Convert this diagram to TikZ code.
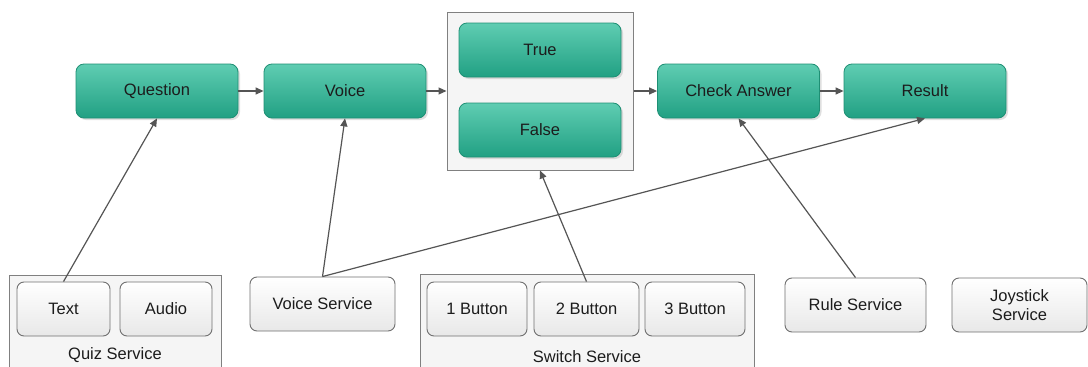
\documentclass[tikz,border=0pt]{standalone}
\usepackage{fontspec}
\setmainfont{Liberation Sans}
\usetikzlibrary{arrows.meta,shadows}
\definecolor{greenTop}{HTML}{5FCDB2}
\definecolor{greenBot}{HTML}{21A083}
\definecolor{greenEdge}{HTML}{1E8F74}
\definecolor{greyEdge}{HTML}{707070}
\definecolor{boxEdge}{HTML}{808080}
\definecolor{arrowCol}{HTML}{555555}
\definecolor{inkCol}{HTML}{1C1C1C}
\tikzset{
  stage/.style={draw=greenEdge, line width=0.8pt, rounded corners=8pt,
    top color=greenTop, bottom color=greenBot, text=inkCol,
    inner sep=0pt, minimum width=162pt, minimum height=54pt,
    drop shadow={shadow xshift=2pt, shadow yshift=-2pt, opacity=0.25}},
  service/.style={draw=greyEdge, line width=0.9pt, rounded corners=7pt,
    top color=white, bottom color=black!9, text=inkCol, align=center,
    inner sep=0pt, minimum height=54pt},
  group/.style={draw=boxEdge, line width=1pt, fill=black!4, inner sep=0pt},
  arr/.style={draw=arrowCol, line width=1.2pt,
    -{Triangle[length=8pt,width=7pt]}},
  every node/.style={font=\fontsize{16.5}{19.5}\selectfont}
}
\begin{document}
\begin{tikzpicture}[x=1pt,y=-1pt]
  \clip (0,0) rectangle (1088,367);
  \fill[white] (0,0) rectangle (1088,367);

  % group frames
  \node[group, minimum width=186pt, minimum height=158pt] (answers) at (540,91) {};
  \node[group, minimum width=212pt, minimum height=110pt] (quiz) at (115,330) {};
  \node[group, minimum width=334pt, minimum height=110pt] (switch) at (587,329) {};

  % processing stages
  \node[stage] (question) at (157,91) {Question};
  \node[stage] (voice) at (345,91) {Voice};
  \node[stage] (true) at (540,50) {True};
  \node[stage] (false) at (540,130) {False};
  \node[stage] (check) at (738.5,91) {Check Answer};
  \node[stage] (result) at (925,91) {Result};

  % services
  \node[service, minimum width=93pt] (text) at (63.5,309) {Text};
  \node[service, minimum width=92pt] (audio) at (166,309) {Audio};
  \node[inkCol] (quizlbl) at (115,355) {Quiz Service};
  \node[service, minimum width=145pt] (voicesvc) at (322.5,304) {Voice Service};
  \node[service, minimum width=100pt] (btn1) at (477,309) {1 Button};
  \node[service, minimum width=105pt] (btn2) at (586.5,309) {2 Button};
  \node[service, minimum width=100pt] (btn3) at (695,309) {3 Button};
  \node[inkCol] (switchlbl) at (587,357) {Switch Service};
  \node[service, minimum width=141pt] (rule) at (855.5,305) {Rule Service};
  \node[service, minimum width=135pt] (joy) at (1019.5,305) {Joystick\\Service};

  % flow along the top row
  \draw[arr] (question.east) -- (voice.west);
  \draw[arr] (voice.east) -- (answers.west);
  \draw[arr] (answers.east) -- (check.west);
  \draw[arr] (check.east) -- (result.west);

  % services feeding the stages
  \draw[arr] (text.north) -- (question.south);
  \draw[arr] (voicesvc.north) -- (voice.south);
  \draw[arr] (voicesvc.north) -- (result.south);
  \draw[arr] (btn2.north) -- (answers.south);
  \draw[arr] (rule.north) -- (check.south);
\end{tikzpicture}
\end{document}
